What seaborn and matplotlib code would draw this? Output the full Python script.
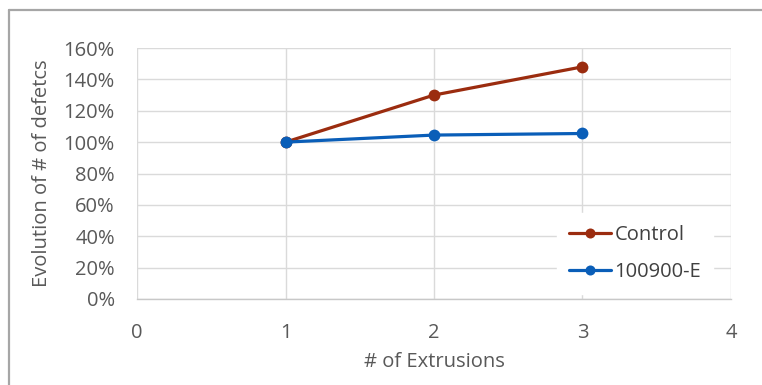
import matplotlib
matplotlib.use("Agg")
import matplotlib.pyplot as plt
from matplotlib.lines import Line2D
from matplotlib.ticker import PercentFormatter
import seaborn as sns
import pandas as pd

# Data
extrusions = [1, 2, 3]
control = [100, 130, 148]
e100900 = [100, 104.5, 105.5]
series_names = ["Control", "100900-E"]
colors = ["#9B2C0F", "#0A5EB8"]

df = pd.concat([
    pd.DataFrame({"x": extrusions, "y": control, "series": series_names[0]}),
    pd.DataFrame({"x": extrusions, "y": e100900, "series": series_names[1]}),
])

sns.set_theme(style="white")
plt.rcParams["font.family"] = ["Open Sans", "DejaVu Sans"]
text_color = "#595959"
fs = 14.5

fig = plt.figure(figsize=(7.62, 3.85), dpi=100)
ax = fig.add_axes([137 / 762, 1 - 299 / 385, (731 - 137) / 762, (299 - 48) / 385])

sns.lineplot(data=df, x="x", y="y", hue="series", palette=colors,
             marker="o", markersize=8.5, markeredgewidth=0, linewidth=2.3,
             ax=ax, zorder=3)

ax.set_xlim(0, 4)
ax.set_ylim(0, 160)
ax.set_xticks(range(0, 5))
ax.set_yticks(range(0, 161, 20))
ax.yaxis.set_major_formatter(PercentFormatter(decimals=0))
ax.grid(True, color="#DADADA", linewidth=1.0)
ax.set_axisbelow(True)
for side in ["top", "right", "left"]:
    ax.spines[side].set_visible(False)
ax.spines["bottom"].set_color("#C8C8C8")
ax.spines["bottom"].set_linewidth(1.0)

ax.tick_params(axis="both", length=0, labelsize=fs, colors=text_color)
ax.tick_params(axis="x", pad=17)
ax.tick_params(axis="y", pad=16)

ax.set_xlabel("# of Extrusions", fontsize=fs, color=text_color, labelpad=7)
ax.set_ylabel("Evolution of # of defetcs", fontsize=fs, color=text_color, labelpad=8)

leg = ax.legend(loc="lower right", bbox_to_anchor=(0.987, -0.02), frameon=True,
                fontsize=fs, handlelength=2.1, handletextpad=0.15,
                labelspacing=0.85, borderpad=0.6, markerscale=0.85)
leg.get_frame().set_facecolor("white")
leg.get_frame().set_edgecolor("white")
leg.get_frame().set_alpha(1.0)
for t in leg.get_texts():
    t.set_color("#404040")

# Chart-area frame on the top and left edges
fig.add_artist(Line2D([9 / 762, 1.0], [1 - 10 / 385, 1 - 10 / 385],
                      transform=fig.transFigure, color="#A6A6A6", linewidth=1.6))
fig.add_artist(Line2D([9 / 762, 9 / 762], [0.0, 1 - 10 / 385],
                      transform=fig.transFigure, color="#A6A6A6", linewidth=1.6))

fig.savefig("out.png", dpi=100)
